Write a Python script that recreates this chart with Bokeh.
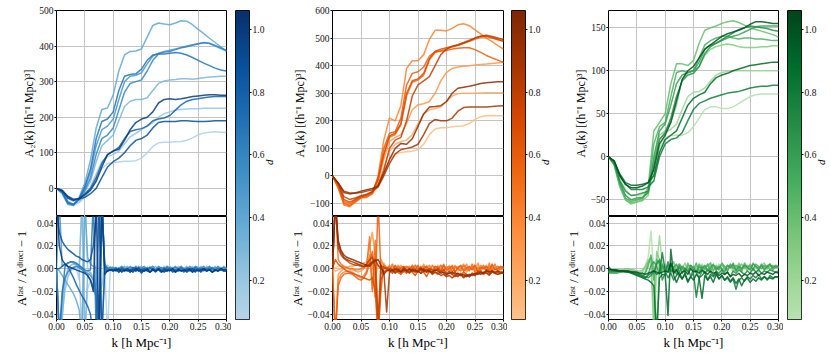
import math
from bokeh.plotting import figure
from bokeh.layouts import row, column
from bokeh.models import FixedTicker, Grid, Range1d, LinearColorMapper
from bokeh.palettes import Blues256, Oranges256, Greens256
from bokeh.embed import file_html
from bokeh.resources import INLINE
import numpy as np

# ---------------- data ----------------
D_VALUES = [0.1, 0.2, 0.3, 0.4, 0.5, 0.6, 0.7, 0.8, 0.9, 1.0]
D_LOW, D_HIGH = 0.075, 1.06

K_TOP = [0.00, 0.01, 0.02, 0.03, 0.04, 0.05, 0.06, 0.07, 0.08, 0.09,
         0.10, 0.11, 0.12, 0.13, 0.14, 0.15, 0.16, 0.17, 0.18, 0.19,
         0.20, 0.21, 0.22, 0.23, 0.24, 0.25, 0.26, 0.27, 0.28, 0.29, 0.30]

K_RES = [0.000, 0.005, 0.010, 0.015, 0.020, 0.025, 0.030, 0.035, 0.040, 0.045,
         0.050, 0.055, 0.060, 0.065, 0.070, 0.075, 0.080, 0.085, 0.090, 0.095,
         0.100, 0.105, 0.110, 0.115, 0.120, 0.125, 0.130, 0.135, 0.140, 0.145,
         0.150, 0.155, 0.160, 0.165, 0.170, 0.175, 0.180, 0.185, 0.190, 0.195,
         0.200, 0.205, 0.210, 0.215, 0.220, 0.225, 0.230, 0.235, 0.240, 0.245,
         0.250, 0.255, 0.260, 0.265, 0.270, 0.275, 0.280, 0.285, 0.290, 0.295, 0.300]

# A_2(k), one list per d value
A2 = [
    [0, -10, -35, -46, -40, -25, -5, 25, 55, 70, 72, 74, 76, 76, 78, 85, 100, 118, 128, 130, 130, 131, 132, 135, 142, 150, 156, 158, 159, 158, 158],
    [0, -12, -40, -48, -38, -20, 5, 40, 75, 90, 95, 105, 125, 145, 155, 165, 175, 185, 200, 210, 215, 220, 222, 223, 224, 224, 225, 225, 225, 225, 225],
    [0, -10, -38, -45, -32, -10, 20, 75, 120, 135, 150, 190, 230, 245, 250, 250, 255, 275, 295, 302, 305, 306, 308, 308, 307, 309, 311, 313, 314, 315, 315],
    [0, -15, -45, -48, -25, 15, 80, 170, 222, 226, 262, 330, 375, 385, 386, 392, 425, 458, 465, 462, 460, 465, 471, 470, 460, 447, 435, 422, 410, 398, 385],
    [0, -10, -40, -46, -30, 0, 45, 120, 165, 175, 195, 250, 300, 315, 318, 325, 350, 372, 380, 385, 388, 392, 396, 400, 404, 407, 409, 407, 400, 393, 386],
    [0, -10, -38, -45, -32, -5, 30, 95, 140, 150, 170, 220, 270, 295, 300, 305, 330, 360, 378, 383, 385, 390, 395, 398, 402, 406, 410, 408, 402, 395, 388],
    [0, -12, -42, -46, -28, 5, 55, 140, 188, 195, 215, 275, 315, 320, 322, 335, 360, 375, 378, 378, 380, 382, 380, 375, 368, 360, 352, 345, 338, 333, 330],
    [0, -8, -28, -35, -28, -15, 0, 30, 70, 95, 105, 115, 140, 160, 165, 168, 175, 190, 195, 198, 205, 220, 235, 245, 250, 252, 255, 257, 258, 258, 258],
    [0, -5, -22, -30, -30, -25, -15, 0, 30, 60, 75, 85, 100, 120, 135, 140, 150, 170, 185, 188, 188, 188, 190, 190, 189, 188, 188, 189, 190, 190, 190],
    [0, -6, -25, -33, -28, -18, -5, 20, 60, 95, 105, 110, 135, 165, 185, 195, 200, 215, 240, 250, 252, 250, 252, 255, 258, 260, 262, 263, 263, 262, 262],
]

A4 = [
    [0, -40, -95, -108, -95, -80, -75, -65, -40, 10, 60, 80, 85, 88, 90, 95, 115, 150, 170, 175, 175, 178, 180, 182, 190, 205, 215, 218, 219, 218, 218],
    [0, -35, -90, -100, -88, -75, -70, -60, -30, 30, 90, 115, 125, 130, 150, 190, 225, 240, 245, 250, 270, 290, 298, 300, 300, 300, 301, 302, 302, 302, 302],
    [0, -38, -95, -105, -90, -78, -72, -60, -20, 60, 125, 140, 150, 190, 240, 258, 262, 270, 300, 345, 375, 390, 395, 398, 400, 402, 404, 406, 408, 410, 412],
    [0, -45, -105, -112, -95, -80, -78, -65, 0, 130, 210, 200, 255, 390, 418, 418, 440, 495, 528, 528, 526, 535, 548, 552, 545, 530, 515, 500, 487, 473, 460],
    [0, -35, -92, -100, -88, -75, -70, -58, -15, 75, 140, 150, 185, 290, 340, 348, 365, 420, 448, 455, 460, 468, 473, 480, 488, 496, 503, 505, 500, 494, 490],
    [0, -40, -100, -108, -92, -78, -75, -62, -5, 100, 155, 160, 210, 330, 372, 378, 395, 435, 450, 452, 455, 460, 463, 465, 465, 458, 448, 437, 428, 420, 412],
    [0, -30, -85, -95, -85, -74, -68, -56, -12, 80, 145, 155, 190, 300, 345, 352, 372, 425, 452, 460, 465, 470, 476, 484, 492, 500, 507, 508, 502, 495, 488],
    [0, -28, -75, -85, -80, -72, -66, -58, -35, 20, 100, 130, 140, 200, 290, 330, 345, 360, 400, 440, 460, 470, 475, 482, 490, 500, 507, 510, 506, 500, 495],
    [0, -25, -55, -62, -62, -60, -55, -50, -40, 0, 45, 80, 95, 100, 105, 115, 150, 190, 205, 200, 200, 210, 235, 248, 250, 250, 250, 250, 252, 254, 255],
    [0, -25, -60, -65, -62, -55, -50, -45, -35, 10, 60, 100, 118, 115, 135, 180, 225, 250, 252, 255, 270, 300, 318, 322, 325, 330, 335, 338, 340, 342, 342],
]

A6 = [
    [0, -6, -25, -38, -45, -45, -44, -40, -20, 10, 22, 25, 25, 25, 28, 35, 45, 55, 58, 58, 56, 56, 58, 62, 66, 70, 72, 73, 73, 73, 73],
    [0, -8, -30, -45, -50, -50, -48, -42, -10, 20, 28, 32, 38, 55, 70, 75, 76, 80, 88, 95, 98, 99, 100, 100, 100, 100, 100, 100, 100, 100, 100],
    [0, -9, -34, -50, -55, -53, -51, -45, -5, 25, 30, 40, 60, 90, 98, 100, 105, 118, 125, 128, 130, 131, 130, 128, 127, 127, 127, 128, 128, 129, 129],
    [0, -10, -35, -50, -54, -52, -50, -35, 30, 40, 50, 85, 108, 108, 106, 112, 132, 147, 150, 152, 155, 157, 158, 156, 153, 150, 148, 146, 144, 142, 139],
    [0, -8, -32, -48, -52, -50, -48, -40, 15, 35, 40, 70, 98, 100, 98, 100, 115, 130, 135, 138, 140, 140, 138, 137, 138, 138, 137, 137, 136, 135, 135],
    [0, -8, -30, -45, -50, -48, -47, -42, 0, 30, 38, 60, 85, 95, 98, 100, 110, 125, 130, 132, 135, 138, 140, 142, 145, 148, 151, 152, 152, 152, 152],
    [0, -7, -28, -40, -45, -44, -42, -40, -10, 20, 28, 45, 70, 88, 95, 97, 105, 120, 128, 132, 136, 140, 144, 148, 150, 152, 151, 150, 149, 147, 146],
    [0, -5, -22, -32, -38, -38, -38, -35, -28, 0, 15, 20, 22, 28, 42, 55, 62, 65, 68, 70, 72, 74, 75, 76, 78, 80, 81, 82, 82, 83, 83],
    [0, -5, -20, -30, -33, -33, -32, -30, -22, 5, 20, 25, 30, 45, 60, 68, 72, 75, 85, 92, 95, 97, 100, 102, 104, 106, 107, 108, 109, 110, 110],
    [0, -5, -22, -32, -36, -36, -34, -30, -15, 15, 25, 40, 65, 90, 100, 105, 115, 125, 130, 135, 140, 143, 145, 147, 150, 154, 157, 157, 156, 155, 155],
]

# A_fast / A_direct - 1, in units of 1e-3 (per mille), on K_RES
R2 = [
    [0, -60, -35, -15, -6, -1, 2, 0, -10, 60, -60, -18, -10, -14, -22, -30, -8, 4, -60, 1,
     2, -1, 1, 0, -1, 2, 0, 1, -1, 0, 2, -1, 1, 0, 2, -1, 0, 1, -2, 2, 0, 1, -1, 0, 2, -1, 1, 0, 1, -2, 2, 0, 1, -1, 2, 0, -1, 1, 0, 1, 0],
    [0, -60, -40, -20, -8, -2, 1, 2, 0, -60, 60, 0, -5, -10, -18, -26, -15, 0, 3, 1,
     0, 1, -1, 2, 0, -1, 1, 0, 2, -1, 0, 1, -1, 2, -1, 0, 1, -1, 2, 0, -1, 1, 0, 2, -2, 1, 0, -1, 2, -1, 0, 1, -1, 2, -1, 1, 0, -1, 1, 0, 0],
    [0, -60, -45, -10, 0, 3, 4, 3, 1, 60, -60, -5, -3, -8, -15, 60, -60, 2, 1, 0,
     1, 0, -1, 1, 0, 2, -1, 1, 0, -1, 2, 0, 1, -1, 0, 2, -1, 1, 0, -1, 2, 0, 1, -2, 1, 0, 2, -1, 1, 0, -1, 2, 0, 1, -1, 0, 2, -1, 1, 0, 1],
    [0, -2, -6, -10, -14, -18, -22, -28, -36, -60, 60, 10, 4, 2, 1, -60, 60, -2, 0, 1,
     0, -1, 1, 0, 2, -1, 0, 1, -1, 2, 0, -1, 1, 0, 2, -2, 1, 0, -1, 2, 0, 1, -1, 0, 2, -1, 1, 0, -2, 2, 1, 0, -1, 1, 2, -1, 0, 1, -1, 2, 0],
    [0, 60, 2, 4, 5, 6, 5, 4, 2, 0, -2, -4, -6, -10, -20, -60, 60, 3, -1, 0,
     1, -1, 0, 2, -1, 1, 0, -1, 2, 0, 1, -2, 1, 0, 2, -1, 0, 1, -1, 2, 0, -1, 1, 0, 2, -1, 1, 0, -1, 2, 0, 1, -1, 0, 2, -1, 1, 0, -1, 1, 0],
    [0, -60, -20, -8, -3, 0, 1, 2, 1, -1, -3, -6, -10, -16, -25, -60, 60, 5, 0, 1,
     0, 1, -1, 1, 0, -1, 2, 0, 1, -1, 0, 2, -1, 1, 0, -1, 2, 0, 1, -2, 1, 0, 2, -1, 1, 0, -1, 2, 0, 1, -1, 0, 2, -1, 1, 0, -1, 2, 0, 1, 0],
    [0, -60, -25, 2, 5, 6, 6, 5, 3, 1, -1, -2, -1, 60, -60, -60, 60, 2, 0, -1,
     -1, 0, -2, 1, -1, 0, -2, 0, 1, -2, -1, 0, -2, 1, -1, -3, 0, -1, -2, 1, -1, 0, -2, -1, 1, -2, 0, -1, -3, 1, -1, 0, -2, 0, -1, 1, -2, 0, -1, -1, -1],
    [0, 0, 2, 4, 2, -3, -8, -14, -19, -24, -28, -33, -40, -60, -60, 60, 60, 0, -2, -1,
     -2, -1, -3, 0, -2, -1, -3, 1, -2, -1, -4, 0, -2, -3, -1, -2, 0, -3, -1, -2, 0, -3, -1, -2, -1, -3, 0, -2, -1, -3, 0, -2, -1, -2, 0, -3, -1, -2, -1, -2, -2],
    [60, 32, 24, 20, 17, 15, 13, 11, 10, 8, 7, 6, 8, 20, 45, 60, -60, -3, -2, -1,
     -2, 0, -3, -1, -2, 0, -3, -1, -2, 1, -3, -2, -1, -3, 0, -2, -1, -3, 0, -2, -1, -2, -3, 0, -2, -1, -3, -1, 0, -2, -1, -3, 0, -2, -1, -3, -1, -2, 0, -2, -2],
    [60, 20, 8, 4, 2, 1, 0, -1, -2, -3, -4, -6, -10, -20, 60, -60, 60, -5, -2, -1,
     -1, -2, 0, -3, -1, -2, -1, -3, 0, -2, -1, -2, 0, -3, -1, -2, 0, -2, -3, -1, -2, 0, -3, -1, -2, -1, -2, 0, -3, -1, -2, -1, 0, -2, -1, -3, -1, -2, 0, -1, -1],
]

R4 = [
    [0, 1, 2, 2, 2, 1, 2, 3, 4, 6, 5, 3, 2, 8, 12, 5, 2, 1, 0, -1,
     1, -2, 2, -1, 3, -2, 0, 2, -3, 1, 0, 2, -2, 3, -1, 0, 2, -3, 1, 2, -1, 3, -2, 0, 2, -1, 3, -2, 1, 0, 4, -2, 1, 2, -3, 3, -1, 0, 2, -1, 0],
    [0, -2, -1, 0, 1, 1, 2, 2, 3, 4, 4, 5, 6, 10, 2, -8, 3, 2, 1, 0,
     -1, 2, -2, 1, 3, -1, 0, 2, -2, 3, -1, 1, 2, -3, 2, 0, -1, 3, -2, 1, 0, 2, -3, 2, 1, -1, 3, -2, 0, 2, -3, 4, -1, 1, 3, -2, 2, 0, -1, 2, 1],
    [0, -60, -5, -2, 0, 1, 0, -1, -2, -3, -2, 0, 5, 20, 32, 10, -45, -15, 5, 0,
     2, -3, 1, 3, -2, 0, 2, -1, 3, -3, 1, 0, 4, -2, 1, -3, 2, 0, 3, -1, 2, -2, 0, 3, -2, 1, 4, -3, 0, 2, -1, 5, -2, 1, 2, -4, 3, -1, 2, 0, 2],
    [0, -60, -10, -5, -3, -2, -2, -3, -5, -7, -8, -6, -2, 12, -18, 15, -60, 8, 2, 0,
     3, -2, 2, 0, -3, 2, 1, -2, 3, 0, -1, 2, -3, 1, 3, -2, 0, 2, -1, 4, -2, 0, 3, -3, 1, 2, -2, 4, -1, 0, 2, -3, 3, 1, -2, 5, -3, 0, 2, -1, 1],
    [0, 60, 8, 4, 2, 1, 0, 0, -1, -1, 0, 1, 3, 28, -20, 25, -60, -20, 3, 1,
     -2, 4, -1, 2, 0, -3, 2, 1, -2, 3, 0, -2, 2, 1, -3, 3, 0, -1, 3, -2, 1, 2, -3, 2, 0, -2, 3, 1, -2, 4, -3, 1, 0, 3, -2, 2, -1, 4, -3, 1, 0],
    [0, -60, -15, -8, -5, -4, -4, -5, -7, -9, -10, -8, -4, 5, 15, -25, 60, -5, 0, 1,
     1, -1, 3, -2, 1, 2, -3, 0, 2, -1, 3, -2, 0, 2, -1, -4, 2, 1, -2, 3, -1, 0, 2, -3, 1, 3, -2, 0, 2, -1, 3, -3, 1, 0, 2, -2, 4, -1, 0, 2, 1],
    [0, 8, 4, 2, 0, -2, -3, -4, -5, -6, -7, -8, -9, -10, -8, -20, -60, -10, -3, -1,
     -2, -4, -1, -3, -5, -2, -4, -1, -3, -6, -2, -4, -3, -7, -2, -4, -3, -5, -2, -4, -6, -3, -5, -7, -4, -6, -3, -5, -7, -4, -6, -2, -4, -5, -3, -6, -2, -4, -5, -4, -4],
    [0, 60, 18, 12, 9, 7, 5, 4, 3, 3, 2, 2, 4, 8, 10, 2, -45, 3, 1, 0,
     0, -1, -3, 0, -2, 1, -1, -3, 0, -2, -1, 1, -2, -3, 0, -1, -2, 0, -3, -1, -4, -2, -5, -3, -6, -4, -7, -5, -6, -4, -5, -3, -2, -4, -1, -3, -2, -4, -3, -4, -4],
    [0, 60, 22, 14, 10, 8, 7, 6, 5, 4, 3, 2, 2, 4, 6, 8, 3, 0, -2, -38,
     -3, -1, -4, -2, -3, 0, -2, -4, -1, -3, -2, -4, 0, -3, -2, -5, -3, -4, -6, -5, -7, -6, -8, -6, -7, -5, -8, -6, -7, -5, -6, -4, -5, -3, -4, -5, -3, -4, -5, -4, -4],
    [0, 60, 25, 16, 12, 10, 9, 8, 7, 6, 5, 4, 3, 2, 5, 7, 8, 3, -5, -2,
     -1, -2, 0, -1, -3, -1, -2, 0, -2, -1, -3, 0, -2, -1, -2, -3, -1, -2, -4, -3, -5, -4, -3, -5, -4, -6, -5, -7, -5, -6, -4, -5, -3, -4, -2, -3, -2, -3, -2, -3, -3],
]

R6 = [
    [-2, -2, -2, -2, -2, -1, -1, -1, -1, -2, -2, -3, -2, 3, 10, 33, -3, 5, 0, -2,
     1, -3, 2, 0, -2, 3, -1, 1, -4, 2, 0, 3, -2, 1, -1, 4, -3, 0, 2, -2, 3, 1, -2, 4, -1, 0, 3, -3, 2, 0, 4, -2, 1, -1, 3, -2, 2, 0, -1, 2, 1],
    [-3, -3, -3, -2, -2, -2, -2, -1, -1, -2, -3, -4, -3, 0, 8, 5, -60, 2, 29, 3,
     -2, 3, 0, -3, 2, 4, -2, 1, 0, 3, -3, 2, -1, 4, 0, -2, 3, 1, -1, 4, -2, 2, 0, 3, -3, 1, 4, -1, 2, -2, 3, 0, 2, -3, 4, 1, -1, 3, 0, 2, 1],
    [-1, -1, -1, -1, -1, -1, 0, 0, -1, -1, -2, -2, -1, 2, 6, 10, -45, 15, 8, 1,
     3, -2, 4, 1, -1, 3, 0, 5, -2, 2, 1, -3, 4, 0, 2, -1, 5, -2, 3, 0, 4, 1, -2, 3, 2, -1, 5, 0, 3, -2, 4, 1, 2, -1, 3, 5, 0, 2, 3, 1, 2],
    [-3, -3, -3, -3, -3, -3, -2, -2, -2, -3, -4, -5, -6, -3, 5, 10, 2, -60, 6, -2,
     4, -1, 2, 6, -2, 3, 1, -3, 5, 0, 2, -2, 4, 1, -1, 3, 5, -2, 2, 0, 4, -1, 3, 1, 5, -2, 2, 4, 0, 3, -1, 5, 2, 0, 4, 1, 3, -1, 2, 3, 2],
    [-4, -4, -4, -4, -3, -3, -3, -3, -3, -4, -5, -6, -7, -4, 2, 12, -10, 8, 4, 0,
     2, -3, 5, 0, -2, 4, 1, -4, 3, 2, -1, 5, -3, 2, 0, 4, -2, 3, 1, -1, 5, 2, -2, 4, 0, 3, 1, -2, 5, 1, 3, -1, 4, 2, 0, 3, 1, 4, -1, 2, 2],
    [-3, -3, -3, -3, -3, -2, -2, -2, -3, -3, -4, -5, -6, -8, -5, 3, 6, 2, -5, 4,
     -4, 3, -2, 1, 4, -3, 2, 0, -2, 3, 1, -4, 2, 0, 3, -2, 1, 4, -1, 2, 0, -3, 3, 1, 4, -2, 2, 0, 3, 1, -1, 4, 2, 0, 3, -1, 2, 4, 1, 2, 1],
    [-2, -2, -2, -2, -2, -2, -2, -3, -3, -4, -4, -5, -6, -7, -8, -6, -3, 4, 8, -10,
     -4, 6, -3, -1, -5, 2, -4, 0, -2, -6, -1, -3, -8, -2, -4, -1, -3, -6, -2, -4, -1, -5, -3, -7, -2, -4, -1, -3, -5, -2, -4, 0, -3, -1, -4, -2, -3, -1, -2, -3, -2],
    [2, -1, -2, -2, -2, -2, -2, -3, -3, -4, -5, -6, -7, -8, -6, -4, -2, -5, -3, 14,
     -2, -8, -4, -10, -6, -3, -9, -5, -12, -7, -4, -25, -8, -6, -3, -10, -5, -7, -4, -9, -6, -10, -8, -12, -9, -18, -10, -8, -11, -7, -9, -6, -8, -5, -9, -7, -10, -6, -8, -7, -7],
    [0, -1, -1, -1, -2, -2, -3, -3, -4, -5, -6, -7, -8, -9, -10, -12, -15, -60, -8, -5,
     -5, -41, 17, -6, -12, -6, -9, -4, -11, -7, -10, -5, -8, -26, -6, -10, -7, -12, -5, -9, -6, -10, -7, -11, -8, -13, -9, -15, -10, -8, -12, -9, -11, -8, -10, -7, -9, -8, -9, -7, -8],
    [-1, -1, -1, -2, -2, -2, -2, -2, -3, -3, -3, -4, -4, -5, -4, -3, -2, -3, -4, -3,
     -2, -3, 5, -4, -1, -6, -3, -2, -5, 0, -3, -2, -4, -1, -3, -5, -2, -4, -3, -6, -4, -5, -3, -7, -5, -6, -4, -7, -5, -6, -4, -5, -3, -6, -4, -5, -3, -4, -5, -3, -4],
]

X_TICKS = [0.0, 0.05, 0.1, 0.15, 0.2, 0.25, 0.3]
X_LABELS = ["0.00", "0.05", "0.10", "0.15", "0.20", "0.25", "0.30"]
RES_TICKS = [-0.04, -0.02, 0.0, 0.02, 0.04]
RES_LABELS = ["\u22120.04", "\u22120.02", "0.00", "0.02", "0.04"]
CB_TICKS = [0.2, 0.4, 0.6, 0.8, 1.0]
CB_LABELS = ["0.2", "0.4", "0.6", "0.8", "1.0"]
RES_LIM = (-0.0446, 0.0458)

PANELS = [
    dict(top=A2, res=R2, pal=Blues256, ylim=(-79, 500),
         yticks=[0, 100, 200, 300, 400, 500], ylabels=["0", "100", "200", "300", "400", "500"],
         ylab="A\u2082(k) [(h\u207b\u00b9 Mpc)\u00b3]", fw=170, left=56, right=5),
    dict(top=A4, res=R4, pal=Oranges256, ylim=(-147, 600),
         yticks=[-100, 0, 100, 200, 300, 400, 500, 600],
         ylabels=["\u2212100", "0", "100", "200", "300", "400", "500", "600"],
         ylab="A\u2084(k) [(h\u207b\u00b9 Mpc)\u00b3]", fw=171, left=48, right=4),
    dict(top=A6, res=R6, pal=Greens256, ylim=(-69.4, 170),
         yticks=[-50, 0, 50, 100, 150], ylabels=["\u221250", "0", "50", "100", "150"],
         ylab="A\u2086(k) [(h\u207b\u00b9 Mpc)\u00b3]", fw=170, left=48, right=5),
]

FONT = "Liberation Serif"
GRID_COLOR = "#c4c4c4"
TOP_PAD = 10
BOTTOM_PAD = 40
RES_LABEL = "A\u1da0\u1d43\u02e2\u1d57 / A\u1d48\u2071\u02b3\u1d49\u1d9c\u1d57 \u2212 1"


def style_axis(ax, ticks, labels):
    ax.ticker = FixedTicker(ticks=ticks)
    ax.major_label_overrides = dict(zip(ticks, labels))
    ax.major_label_text_font = FONT
    ax.major_label_text_font_size = "9.5px"
    ax.major_label_text_color = "#111111"
    ax.axis_label_text_font = FONT
    ax.axis_label_text_font_size = "12.5px"
    ax.axis_label_text_font_style = "normal"
    ax.axis_label_text_color = "black"
    ax.axis_line_color = None
    ax.major_tick_line_color = "black"
    ax.major_tick_out = 2
    ax.major_tick_in = 0
    ax.minor_tick_line_color = None
    ax.major_label_standoff = 1
    ax.axis_label_standoff = 0


def cmap(pal256):
    light_to_dark = list(reversed(pal256))
    return light_to_dark[77:]


def color_for(pal, d):
    idx = int(round((d - D_LOW) / (D_HIGH - D_LOW) * (len(pal) - 1)))
    return pal[max(0, min(len(pal) - 1, idx))]


def base_fig(fw, fh, ylim, left, top, bottom, right, xaxis):
    p = figure(frame_width=fw, frame_height=fh,
               x_range=Range1d(0, 0.3), y_range=Range1d(*ylim),
               x_axis_location="below" if xaxis else None,
               toolbar_location=None, output_backend="svg",
               min_border_left=left, min_border_right=right,
               min_border_top=top, min_border_bottom=bottom)
    p.outline_line_color = "black"
    p.outline_line_width = 1
    p.outline_line_alpha = 1
    p.background_fill_color = "white"
    p.border_fill_color = "white"
    return p


cols = []
for panel in PANELS:
    pal = cmap(panel["pal"])
    fw = panel["fw"]
    # upper panel
    pt = base_fig(fw, 206, panel["ylim"], panel["left"], TOP_PAD, 0, panel["right"], False)
    style_axis(pt.yaxis[0], panel["yticks"], panel["ylabels"])
    pt.yaxis.axis_label = panel["ylab"]
    pt.yaxis.axis_label_text_font_size = "12px"
    pt.ygrid.grid_line_color = GRID_COLOR
    pt.add_layout(Grid(dimension=0, ticker=FixedTicker(ticks=X_TICKS),
                       grid_line_color=GRID_COLOR))
    for d, vals in zip(D_VALUES, panel["top"]):
        pt.line(K_TOP, vals, line_color=color_for(pal, d), line_width=1.5,
                line_alpha=0.85, line_join="round")
    # lower (ratio) panel
    pb = base_fig(fw, 103, RES_LIM, panel["left"], 0, BOTTOM_PAD, panel["right"], True)
    style_axis(pb.yaxis[0], RES_TICKS, RES_LABELS)
    style_axis(pb.xaxis[0], X_TICKS, X_LABELS)
    pb.yaxis.axis_label = RES_LABEL
    pb.xaxis.axis_label = "k [h Mpc\u207b\u00b9]"
    pb.xaxis.axis_label_text_font_size = "13px"
    pb.xaxis.axis_label_standoff = 2
    pb.grid.grid_line_color = GRID_COLOR
    for d, vals in zip(D_VALUES, panel["res"]):
        pb.line(K_RES, [v / 1000 for v in vals], line_color=color_for(pal, d),
                line_width=1.5, line_alpha=0.85, line_join="round")
    # colour bar
    cb = figure(frame_width=14, frame_height=309, x_range=Range1d(0, 1),
                y_range=Range1d(D_LOW, D_HIGH), x_axis_location=None,
                y_axis_location="right", toolbar_location=None,
                output_backend="svg", min_border_left=4, min_border_right=31,
                min_border_top=TOP_PAD, min_border_bottom=BOTTOM_PAD)
    cb.grid.visible = False
    cb.outline_line_color = "black"
    cb.outline_line_width = 1
    mapper = LinearColorMapper(palette=pal, low=D_LOW, high=D_HIGH)
    grad = np.linspace(D_LOW, D_HIGH, 256).reshape(256, 1)
    cb.image(image=[grad], x=0, y=D_LOW, dw=1, dh=D_HIGH - D_LOW, color_mapper=mapper)
    style_axis(cb.yaxis[0], CB_TICKS, CB_LABELS)
    cb.yaxis.axis_label = "d"
    cb.yaxis.axis_label_text_font_size = "11px"
    cb.yaxis.axis_label_text_font_style = "italic"
    cb.yaxis.axis_label_standoff = 2
    cb.yaxis.axis_label_orientation = math.pi / 2
    cols.append(column(pt, pb, spacing=0))
    cols.append(cb)

layout = row(*cols, spacing=0)
open("out.html", "w").write(file_html(layout, INLINE))
